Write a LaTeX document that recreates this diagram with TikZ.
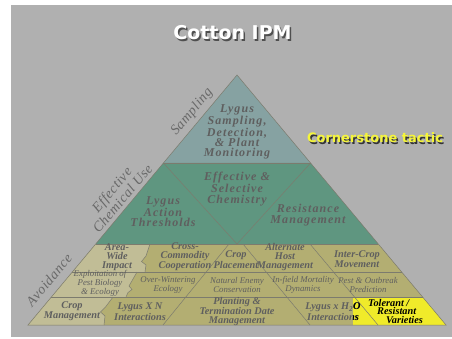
\documentclass[tikz,border=0pt]{standalone}
\usepackage{fontspec}
\setmainfont{Liberation Serif}
\newfontfamily\titlefont{DejaVu Sans}
\newfontfamily\pyrfont[LetterSpace=9]{Liberation Serif}
\newfontfamily\sidefont[LetterSpace=4]{Liberation Serif}
\definecolor{bggray}{HTML}{B0B0B0}
\definecolor{topband}{HTML}{86A2A2}
\definecolor{greenband}{HTML}{5F9680}
\definecolor{oliveband}{HTML}{B3AE72}
\definecolor{lightcell}{HTML}{C1BD96}
\definecolor{hiyellow}{HTML}{F0EB2A}
\definecolor{txtgray}{HTML}{5F5F5F}
\definecolor{sidegray}{HTML}{686868}
\definecolor{edgegray}{HTML}{7C7B6E}
\definecolor{cornyellow}{HTML}{F5F53A}
\tikzset{
  big/.style={font=\pyrfont\bfseries\itshape\fontsize{12}{10.3}\selectfont, text=txtgray, align=center, inner sep=0pt},
  cell/.style={font=\bfseries\itshape\fontsize{10.3}{8.7}\selectfont, text=txtgray, align=center, inner sep=0pt},
  thincell/.style={font=\itshape\fontsize{8.8}{9}\selectfont, text=txtgray, align=center, inner sep=0pt},
  side/.style={font=\sidefont\itshape\fontsize{14}{14}\selectfont, text=sidegray, rotate=50, align=center, inner sep=0pt},
  edge/.style={draw=edgegray, line width=0.5pt},
  titletext/.style={font=\titlefont\bfseries\fontsize{19}{20}\selectfont, inner sep=0pt, anchor=base},
  corntext/.style={font=\titlefont\bfseries\fontsize{13}{14}\selectfont, inner sep=0pt, anchor=base}
}
\begin{document}
\begin{tikzpicture}[x=1pt,y=-1pt]
\useasboundingbox (0,0) rectangle (452,339);
\fill[white] (0,0) rectangle (452,339);
\fill[bggray] (11,5) rectangle (452,337);
% title
\node[titletext, text=black, opacity=0.55] (titleshadow) at (234,42) {Cotton IPM};
\node[titletext, text=white] (title) at (232.5,40) {Cotton IPM};
% bands
\fill[topband] (237,75) -- (310.6,163) -- (163.4,163) -- cycle;
\fill[greenband] (163.4,163) -- (310.6,163) -- (378.3,244) -- (95.7,244) -- cycle;
\fill[oliveband] (95.7,244) -- (378.3,244) -- (446,325) -- (28,325) -- cycle;
% light cells
\fill[lightcell] (95.7,244) -- (150,244) -- (146,256) -- (141.5,261.5) -- (146,265) -- (145,272) -- (72.3,272) -- cycle;
\fill[lightcell] (72.3,272) -- (137,272) -- (129,286) -- (132,289.5) -- (128,292.5) -- (126,297) -- (51.4,297) -- cycle;
\fill[lightcell] (51.4,297) -- (113,297) -- (105.5,307) -- (100.5,312) -- (105,316) -- (104,325) -- (28,325) -- cycle;
\draw[edge] (150,244) -- (146,256) -- (141.5,261.5) -- (146,265) -- (145,272);
\draw[edge] (137,272) -- (129,286) -- (132,289.5) -- (128,292.5) -- (126,297);
\draw[edge] (113,297) -- (105.5,307) -- (100.5,312) -- (105,316) -- (104,325);
% highlight
\fill[hiyellow] (353,297) -- (422.6,297) -- (446,325) -- (353,325) -- cycle;
% band separators and inner lines
\draw[edge] (163.4,163) -- (310.6,163);
\draw[edge] (95.7,244) -- (378.3,244);
\draw[edge] (163.4,163) -- (237,244) -- (310.6,163);
\draw[edge] (72.3,272) -- (401.7,272);
\draw[edge] (51.4,297) -- (422.6,297);
\draw[edge] (229,244) -- (163,325);
\draw[edge] (243,244) -- (310,325);
\draw[edge] (310,244) -- (378,325);
% outline
\draw[edge] (237,75) -- (446,325) -- (28,325) -- cycle;
% side labels
\node[side] (sampling) at (192,112) {Sampling};
\node[side] (chemuse) at (117,194) {Effective\\Chemical Use};
\node[side] (avoid) at (49,280) {Avoidance};
% top band
\node[big] (monitor) at (237,132) {Lygus\\Sampling,\\Detection,\\\& Plant\\Monitoring};
% green band
\node[big] (select) at (237,189) {Effective \&\\Selective\\Chemistry};
\node[big] (thresh) at (163,212) {Lygus\\Action\\Thresholds};
\node[big] (resist) at (308,215) {Resistance\\Management};
% row 1
\node[cell] (areawide) at (117,257) {Area-\\Wide\\Impact};
\node[cell] (cross) at (185,257) {Cross-\\Commodity\\Cooperation};
\node[cell] (placement) at (236,259.5) {Crop\\Placement};
\node[cell] (althost) at (285,257) {Alternate\\Host\\Management};
\node[cell] (intercrop) at (357,259.5) {Inter-Crop\\Movement};
% row 2
\node[thincell] (exploit) at (100,283) {Exploitation of\\Pest Biology\\\& Ecology};
\node[thincell] (overwinter) at (168,285) {Over-Wintering\\Ecology};
\node[thincell] (natenemy) at (237,285) {Natural Enemy\\Conservation};
\node[thincell] (infield) at (303,285) {In-field Mortality\\Dynamics};
\node[thincell] (outbreak) at (368,285) {Pest \& Outbreak\\Prediction};
% row 3
\node[cell] (cropmgmt) at (72,311.5) {Crop\\Management};
\node[cell] (lygusn) at (140,311.5) {Lygus X N\\Interactions};
\node[cell] (planting) at (237,311.5) {Planting \&\\Termination Date\\Management};
\node[cell] (lygush) at (333,311.5) {Lygus x H\textsubscript{2}O\\Interactions};
\begin{scope}
\clip (353,297) -- (422.6,297) -- (446,325) -- (353,325) -- cycle;
\node[cell, text=black] (lygushdark) at (333,311.5) {Lygus x H\textsubscript{2}O\\Interactions};
\end{scope}
\node[cell, text=black, align=left, anchor=west] (tolerant) at (368,311.5) {Tolerant /\\\hspace*{9pt}Resistant\\\hspace*{18pt}Varieties};
% cornerstone
\node[corntext, text=black, opacity=0.7] (cornshadow) at (376.5,144.5) {Cornerstone tactic};
\node[corntext, text=cornyellow] (corner) at (375,143) {Cornerstone tactic};
\end{tikzpicture}
\end{document}
